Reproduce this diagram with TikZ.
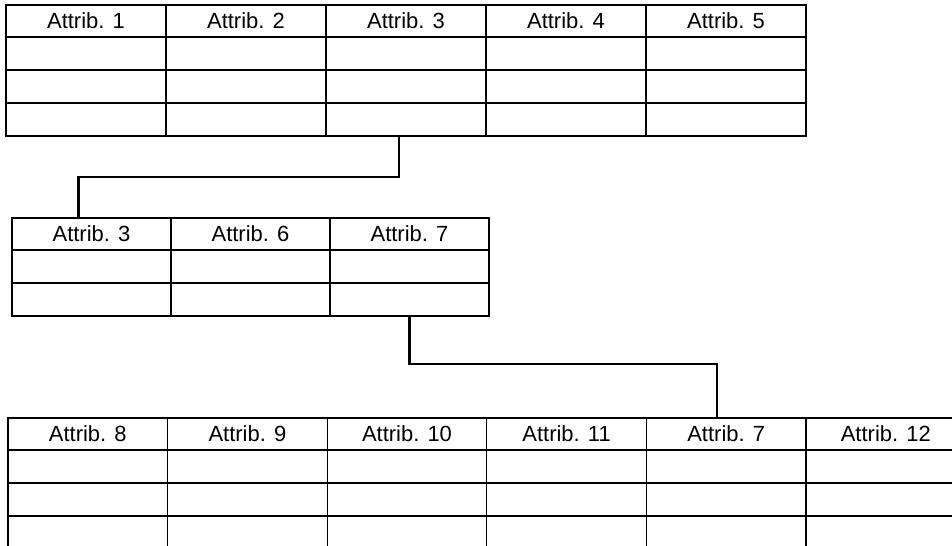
\documentclass[tikz,border=0pt]{standalone}
\usepackage{fontspec}
\setmainfont{Liberation Sans}
\usetikzlibrary{positioning, calc}

\begin{document}
\begin{tikzpicture}[
    x=0.02cm, y=-0.02cm,
    cell/.style={rectangle, draw=black, line width=0.7pt, anchor=north west, minimum width=#1, minimum height=0.66cm, inner sep=0pt, outer sep=0pt},
    head/.style={cell=#1, minimum height=0.64cm, font=\fontsize{12.5}{15}\selectfont},
    link/.style={draw=black, line width=1.4pt, line join=miter},
]
    \useasboundingbox (0,0) rectangle (952,546);
    \clip (0,0) rectangle (952,546);

    % upper table
    \foreach \n [count=\c] in {1,2,3,4,5} {
        \node[head=3.2cm] (ta-\c-0) at ({6+160*(\c-1)},5) {Attrib. \n};
        \foreach \r in {1,2,3}
            \node[cell=3.2cm] (ta-\c-\r) at ({6+160*(\c-1)},{4+33*\r}) {};
    }

    % middle table
    \foreach \n [count=\c] in {3,6,7} {
        \node[head=3.18cm] (tb-\c-0) at ({12+159*(\c-1)},218) {Attrib. \n};
        \foreach \r in {1,2}
            \node[cell=3.18cm] (tb-\c-\r) at ({12+159*(\c-1)},{217+33*\r}) {};
    }

    % lower table
    \foreach \n [count=\c] in {8,9,10,11,7,12} {
        \node[head=3.192cm] (tc-\c-0) at ({8+159.6*(\c-1)},418) {Attrib. \n};
        \foreach \r in {1,2,3}
            \node[cell=3.192cm] (tc-\c-\r) at ({8+159.6*(\c-1)},{417+33*\r}) {};
    }

    % links
    \coordinate (ja) at ($(ta-3-3.south)+(-7,0)$);
    \coordinate (jb) at ($(tb-1-0.north)+(-13,0)$);
    \coordinate (jc) at (tb-3-2.south);
    \coordinate (jd) at ($(tc-5-0.north)+(-9,0)$);
    \draw[link] (ja) -- (ja |- 0,177) -| (jb);
    \draw[link] (jc) -- (jc |- 0,364) -| (jd);
\end{tikzpicture}
\end{document}
